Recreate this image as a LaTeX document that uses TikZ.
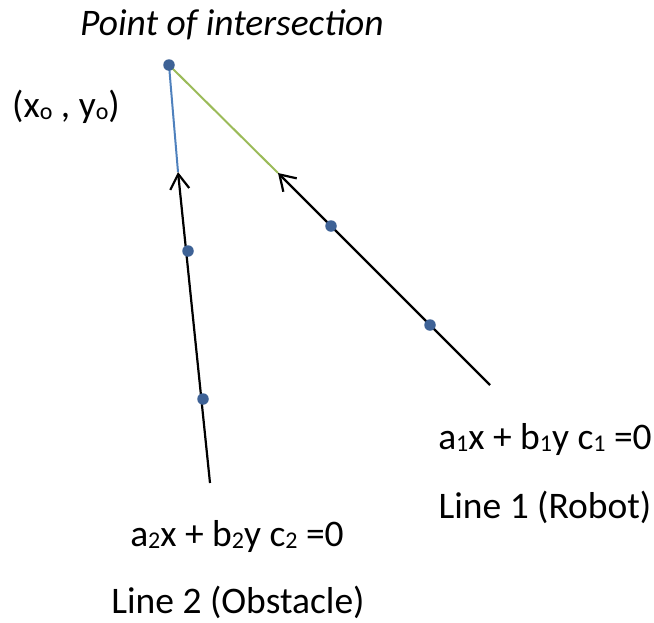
\documentclass[tikz,border=0pt]{standalone}
\usepackage{fontspec}
\setmainfont{Carlito}
\usetikzlibrary{arrows.meta}
\definecolor{dotblue}{HTML}{3E6296}
\definecolor{lineblue}{HTML}{4F81BD}
\definecolor{linegreen}{HTML}{9BBB59}
\newcommand{\lsub}[1]{\raisebox{-2pt}{\fontsize{24}{24}\selectfont #1}}

\begin{document}
\begin{tikzpicture}
		[x=1pt,y=-1pt,every node/.style={font=\fontsize{37.5}{45}\selectfont,inner sep=0pt},
		dot/.style={circle,fill=dotblue,minimum size=11.5pt},
		ray/.style={line width=2.2pt,-{Straight Barb[length=15pt,width=19pt]}}]
		\useasboundingbox (0,0) rectangle (654,622);
		\coordinate (o) at (169,65);
		\coordinate (1) at (490,385);
		\coordinate (1a) at (430,325);
		\coordinate (1b) at (331,226);
		\coordinate (1t) at (278,173);
		\coordinate (2) at (210,483);
		\coordinate (2a) at (203,399);
		\coordinate (2b) at (188,251);
		\coordinate (2t) at (178,172);
		\draw [lineblue, line width=2pt] (o) -- (2t) ;
		\draw [linegreen, line width=2pt] (o) -- (1t) ;
		\draw [ray] (1) -- (1t) ;
		\draw [ray] (2) -- (2t) ;
		\node [dot] (po) at (o) {};
		\node [dot] (p1a) at (1a) {};
		\node [dot] (p1b) at (1b) {};
		\node [dot] (p2a) at (2a) {};
		\node [dot] (p2b) at (2b) {};
		\node (title) at (232,25) {\itshape Point of intersection};
		\node (xy) at (66,107) {(x\lsub{o} , y\lsub{o})};
		\node (eq1) at (545,439) {a\lsub{1}x + b\lsub{1}y c\lsub{1} =0};
		\node (name1) at (545,507) {Line 1 (Robot)};
		\node (eq2) at (237,536) {a\lsub{2}x + b\lsub{2}y c\lsub{2} =0};
		\node (name2) at (238,602) {Line 2 (Obstacle)};
\end{tikzpicture}
\end{document}
